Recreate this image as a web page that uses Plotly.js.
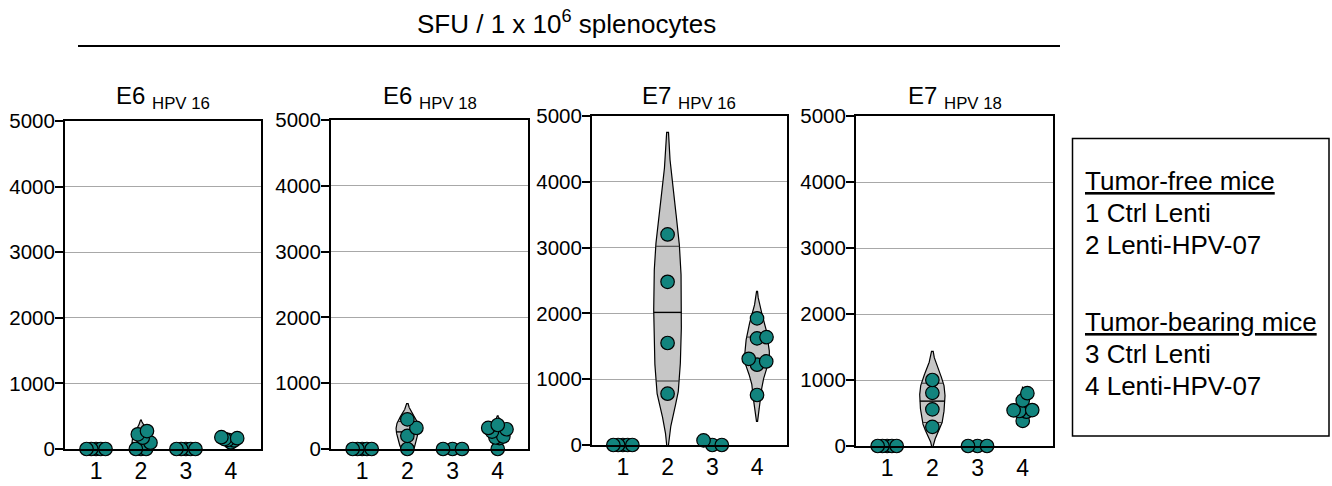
<!DOCTYPE html>
<html>
<head>
<meta charset="utf-8">
<script src="https://cdn.plot.ly/plotly-3.0.1.min.js"></script>
<style>html,body{margin:0;padding:0;background:#fff}#chart{width:1332px;height:486px}</style>
</head>
<body>
<div id="chart"></div>
<script>
// ---------------- data ----------------
const categories = ['1', '2', '3', '4'];
const panelTitles = ['E6 <sub>HPV 16</sub>', 'E6 <sub>HPV 18</sub>', 'E7 <sub>HPV 16</sub>', 'E7 <sub>HPV 18</sub>'];
const yTickValues = [0, 1000, 2000, 3000, 4000, 5000];

// SFU per 1e6 splenocytes, one array per group (1..4)
const e6Hpv16 = [
  [0, 0, 0, 0, 0],
  [0, 0, 0, 96, 172, 224, 274],
  [0, 0, 0, 0, 0],
  [100, 130, 140, 150, 165, 180]
];
const e6Hpv18 = [
  [0, 0, 0, 0, 0],
  [0, 200, 320, 450],
  [0, 0, 0],
  [0, 165, 175, 190, 265, 300, 320, 365]
];
const e7Hpv16 = [
  [0, 0, 0, 0, 0],
  [780, 1550, 2480, 3200],
  [0, 70, 0],
  [760, 1220, 1270, 1310, 1620, 1640, 1925]
];
const e7Hpv18 = [
  [0, 0, 0, 0, 0],
  [290, 555, 805, 1000],
  [0, 0, 0],
  [380, 520, 530, 540, 545, 690, 800]
];
const panelData = [e6Hpv16, e6Hpv18, e7Hpv16, e7Hpv18];

const mainTitle = 'SFU / 1 x 10<sup>6</sup> splenocytes';
const legendLines = ['<u>Tumor-free mice</u>', '1 Ctrl Lenti', '2 Lenti-HPV-07',
                     '<u>Tumor-bearing mice</u>', '3 Ctrl Lenti', '4 Lenti-HPV-07'];

// ---------------- styling / layout ----------------
const W = 1332, H = 486;
const FONT = 'Liberation Sans, Arial, Helvetica, sans-serif';
const panelBoxes = [
  {x0: 65,  x1: 261,  y0: 121, y1: 449},
  {x0: 331, x1: 528,  y0: 120, y1: 449},
  {x0: 592, x1: 787,  y0: 116, y1: 445},
  {x0: 856, x1: 1053, y0: 116, y1: 446}
];
const violinHalfWidth = [[0, 0.22, 0, 0.22], [0, 0.25, 0, 0.22], [0, 0.31, 0, 0.28], [0, 0.28, 0, 0.12]];
const XR = [0.31, 4.67], YR = [0, 5000];
const legendY = [181, 213, 245, 322, 354, 386];
const DOT = '#12847e', VFILL = '#c6c6c6';

// ---------------- helpers ----------------
function quantile(sorted, p) {          // (n+1)p method, used for the quartile lines
  const n = sorted.length, pos = p * (n + 1);
  if (pos <= 1) return sorted[0];
  if (pos >= n) return sorted[n - 1];
  const i = Math.floor(pos), f = pos - i;
  return sorted[i - 1] + f * (sorted[i] - sorted[i - 1]);
}
function quantileLin(sorted, p) {       // (n-1)p method, used for the bandwidth
  const pos = p * (sorted.length - 1), i = Math.floor(pos), f = pos - i;
  return i + 1 < sorted.length ? sorted[i] + f * (sorted[i + 1] - sorted[i]) : sorted[i];
}
function bandwidth(vals) {
  const n = vals.length, s = vals.slice().sort((a, b) => a - b);
  const mean = vals.reduce((a, b) => a + b, 0) / n;
  const sd = Math.sqrt(vals.reduce((a, b) => a + (b - mean) * (b - mean), 0) / (n - 1));
  const iqr = quantileLin(s, 0.75) - quantileLin(s, 0.25);
  return 1.059 * Math.min(sd, iqr / 1.349) * Math.pow(n, -0.2);
}
function swarm(vals, pxX, pxY, dmin, limit) {
  const idx = vals.map((v, i) => i).sort((a, b) => vals[a] - vals[b]);
  const placed = [], off = new Array(vals.length).fill(0);
  for (const i of idx) {
    const y = vals[i] * pxY;
    const cands = [0];
    for (const p of placed) {
      const dy = Math.abs(p.y - y);
      if (dy < dmin) { const dx = Math.sqrt(dmin * dmin - dy * dy); cands.push(p.x + dx, p.x - dx); }
    }
    cands.sort((a, b) => (Math.abs(a) - Math.abs(b)) || (b - a));
    let chosen = 0;
    for (const c of cands) {
      if (placed.every(p => (p.x - c) ** 2 + (p.y - y) ** 2 >= dmin * dmin - 1e-6)) { chosen = c; break; }
    }
    placed.push({x: chosen, y}); off[i] = chosen;
  }
  const m = Math.max(...off.map(Math.abs));
  const sc = m > limit ? limit / m : 1;
  return off.map(o => o * sc / pxX);
}

// ---------------- build ----------------
const traces = [], annotations = [], shapes = [];
const layout = {
  width: W, height: H, margin: {l: 0, r: 0, t: 0, b: 0},
  paper_bgcolor: '#fff', plot_bgcolor: '#fff', showlegend: false,
  font: {family: FONT, color: '#000'}
};

panelData.forEach((groups, p) => {
  const b = panelBoxes[p];
  const sfx = p === 0 ? '' : String(p + 1);
  const xa = 'x' + sfx, ya = 'y' + sfx;
  const pxX = (b.x1 - b.x0) / (XR[1] - XR[0]);
  const pxY = (b.y1 - b.y0) / (YR[1] - YR[0]);

  layout['xaxis' + sfx] = {
    domain: [b.x0 / W, b.x1 / W], anchor: ya, range: XR,
    tickmode: 'array', tickvals: categories.map((c, i) => i + 1), ticktext: categories,
    showline: true, linewidth: 2, linecolor: '#000', mirror: true,
    ticks: '', showgrid: false, zeroline: false,
    tickfont: {size: 23, family: FONT, color: '#000'}, fixedrange: true
  };
  layout['yaxis' + sfx] = {
    domain: [1 - b.y1 / H, 1 - b.y0 / H], anchor: xa, range: YR,
    tickmode: 'array', tickvals: yTickValues,
    showline: true, linewidth: 2, linecolor: '#000', mirror: true,
    ticks: 'outside', ticklen: 8, tickwidth: 2, tickcolor: '#000', ticklabelstandoff: -4,
    showgrid: true, gridcolor: '#a8a8a8', gridwidth: 1, zeroline: false,
    tickfont: {size: 20.5, family: FONT, color: '#000'}, fixedrange: true
  };

  const medX = [], medY = [], qX = [], qY = [];
  groups.forEach((vals, g) => {
    const c = g + 1;
    const bw = bandwidth(vals);
    const half = violinHalfWidth[p][g];
    if (bw > 0 && half > 0) {
      const s = vals.slice().sort((a, b2) => a - b2);
      const mn = s[0], mx = s[s.length - 1];
      const lo = mn - 2 * bw, hi = mx + 2 * bw;
      const dens = t => vals.reduce((a, v) => a + Math.exp(-0.5 * ((t - v) / bw) ** 2), 0);
      const N = 300, ts = [], ds = [];
      for (let k = 0; k <= N; k++) { const t = lo + (hi - lo) * k / N; ts.push(t); ds.push(dens(t)); }
      const maxd = Math.max(...ds);
      const mapY = t => (lo < 0 && t < mn) ? (t - lo) / (mn - lo) * mn : t;
      const xs = [], ys = [];
      for (let k = 0; k <= N; k++) { xs.push(c + half * ds[k] / maxd); ys.push(mapY(ts[k])); }
      for (let k = N; k >= 0; k--) { xs.push(c - half * ds[k] / maxd); ys.push(mapY(ts[k])); }
      traces.push({type: 'scatter', mode: 'lines', x: xs, y: ys, xaxis: xa, yaxis: ya,
        fill: 'toself', fillcolor: VFILL, line: {color: '#000', width: 1.2}, hoverinfo: 'skip'});
      const q1 = quantile(s, 0.25), q2 = quantile(s, 0.5), q3 = quantile(s, 0.75);
      [q1, q3].forEach(q => { const h = half * dens(q) / maxd; qX.push(c - h, c + h, null); qY.push(q, q, null); });
      const hm = half * dens(q2) / maxd; medX.push(c - hm, c + hm, null); medY.push(q2, q2, null);
    }
  });
  traces.push({type: 'scatter', mode: 'lines', x: qX, y: qY, xaxis: xa, yaxis: ya,
    line: {color: '#333', width: 1}, hoverinfo: 'skip'});
  traces.push({type: 'scatter', mode: 'lines', x: medX, y: medY, xaxis: xa, yaxis: ya,
    line: {color: '#000', width: 1.4}, hoverinfo: 'skip'});

  groups.forEach((vals, g) => {
    const off = swarm(vals, pxX, pxY, 12, 9.5);
    traces.push({type: 'scatter', mode: 'markers', x: vals.map((v, i) => g + 1 + off[i]), y: vals,
      xaxis: xa, yaxis: ya, cliponaxis: false,
      marker: {size: 13.5, color: DOT, line: {color: '#000', width: 1.2}}, hoverinfo: 'y'});
  });

  annotations.push({text: panelTitles[p], xref: 'paper', yref: 'paper',
    x: (b.x0 + b.x1) / 2 / W, y: 1 - 97 / H, xanchor: 'center', yanchor: 'middle',
    showarrow: false, font: {size: 24, family: FONT, color: '#000'}});
});

annotations.push({text: mainTitle, xref: 'paper', yref: 'paper', x: 566 / W, y: 1 - 22 / H,
  xanchor: 'center', yanchor: 'middle', showarrow: false, font: {size: 26, family: FONT, color: '#000'}});
shapes.push({type: 'line', xref: 'paper', yref: 'paper', x0: 78 / W, x1: 1060 / W, y0: 1 - 46 / H, y1: 1 - 46 / H,
  line: {color: '#000', width: 2}});
shapes.push({type: 'rect', xref: 'paper', yref: 'paper', x0: 1072.5 / W, x1: 1329 / W, y0: 1 - 436 / H, y1: 1 - 138.5 / H,
  line: {color: '#000', width: 1.5}, fillcolor: 'rgba(0,0,0,0)'});
legendLines.forEach((t, i) => {
  annotations.push({text: t, xref: 'paper', yref: 'paper', x: 1083 / W, y: 1 - legendY[i] / H,
    xanchor: 'left', yanchor: 'middle', showarrow: false, font: {size: 26, family: FONT, color: '#000'}});
});

layout.annotations = annotations;
layout.shapes = shapes;
Plotly.newPlot('chart', traces, layout, {staticPlot: true, displayModeBar: false});
</script>
</body>
</html>
